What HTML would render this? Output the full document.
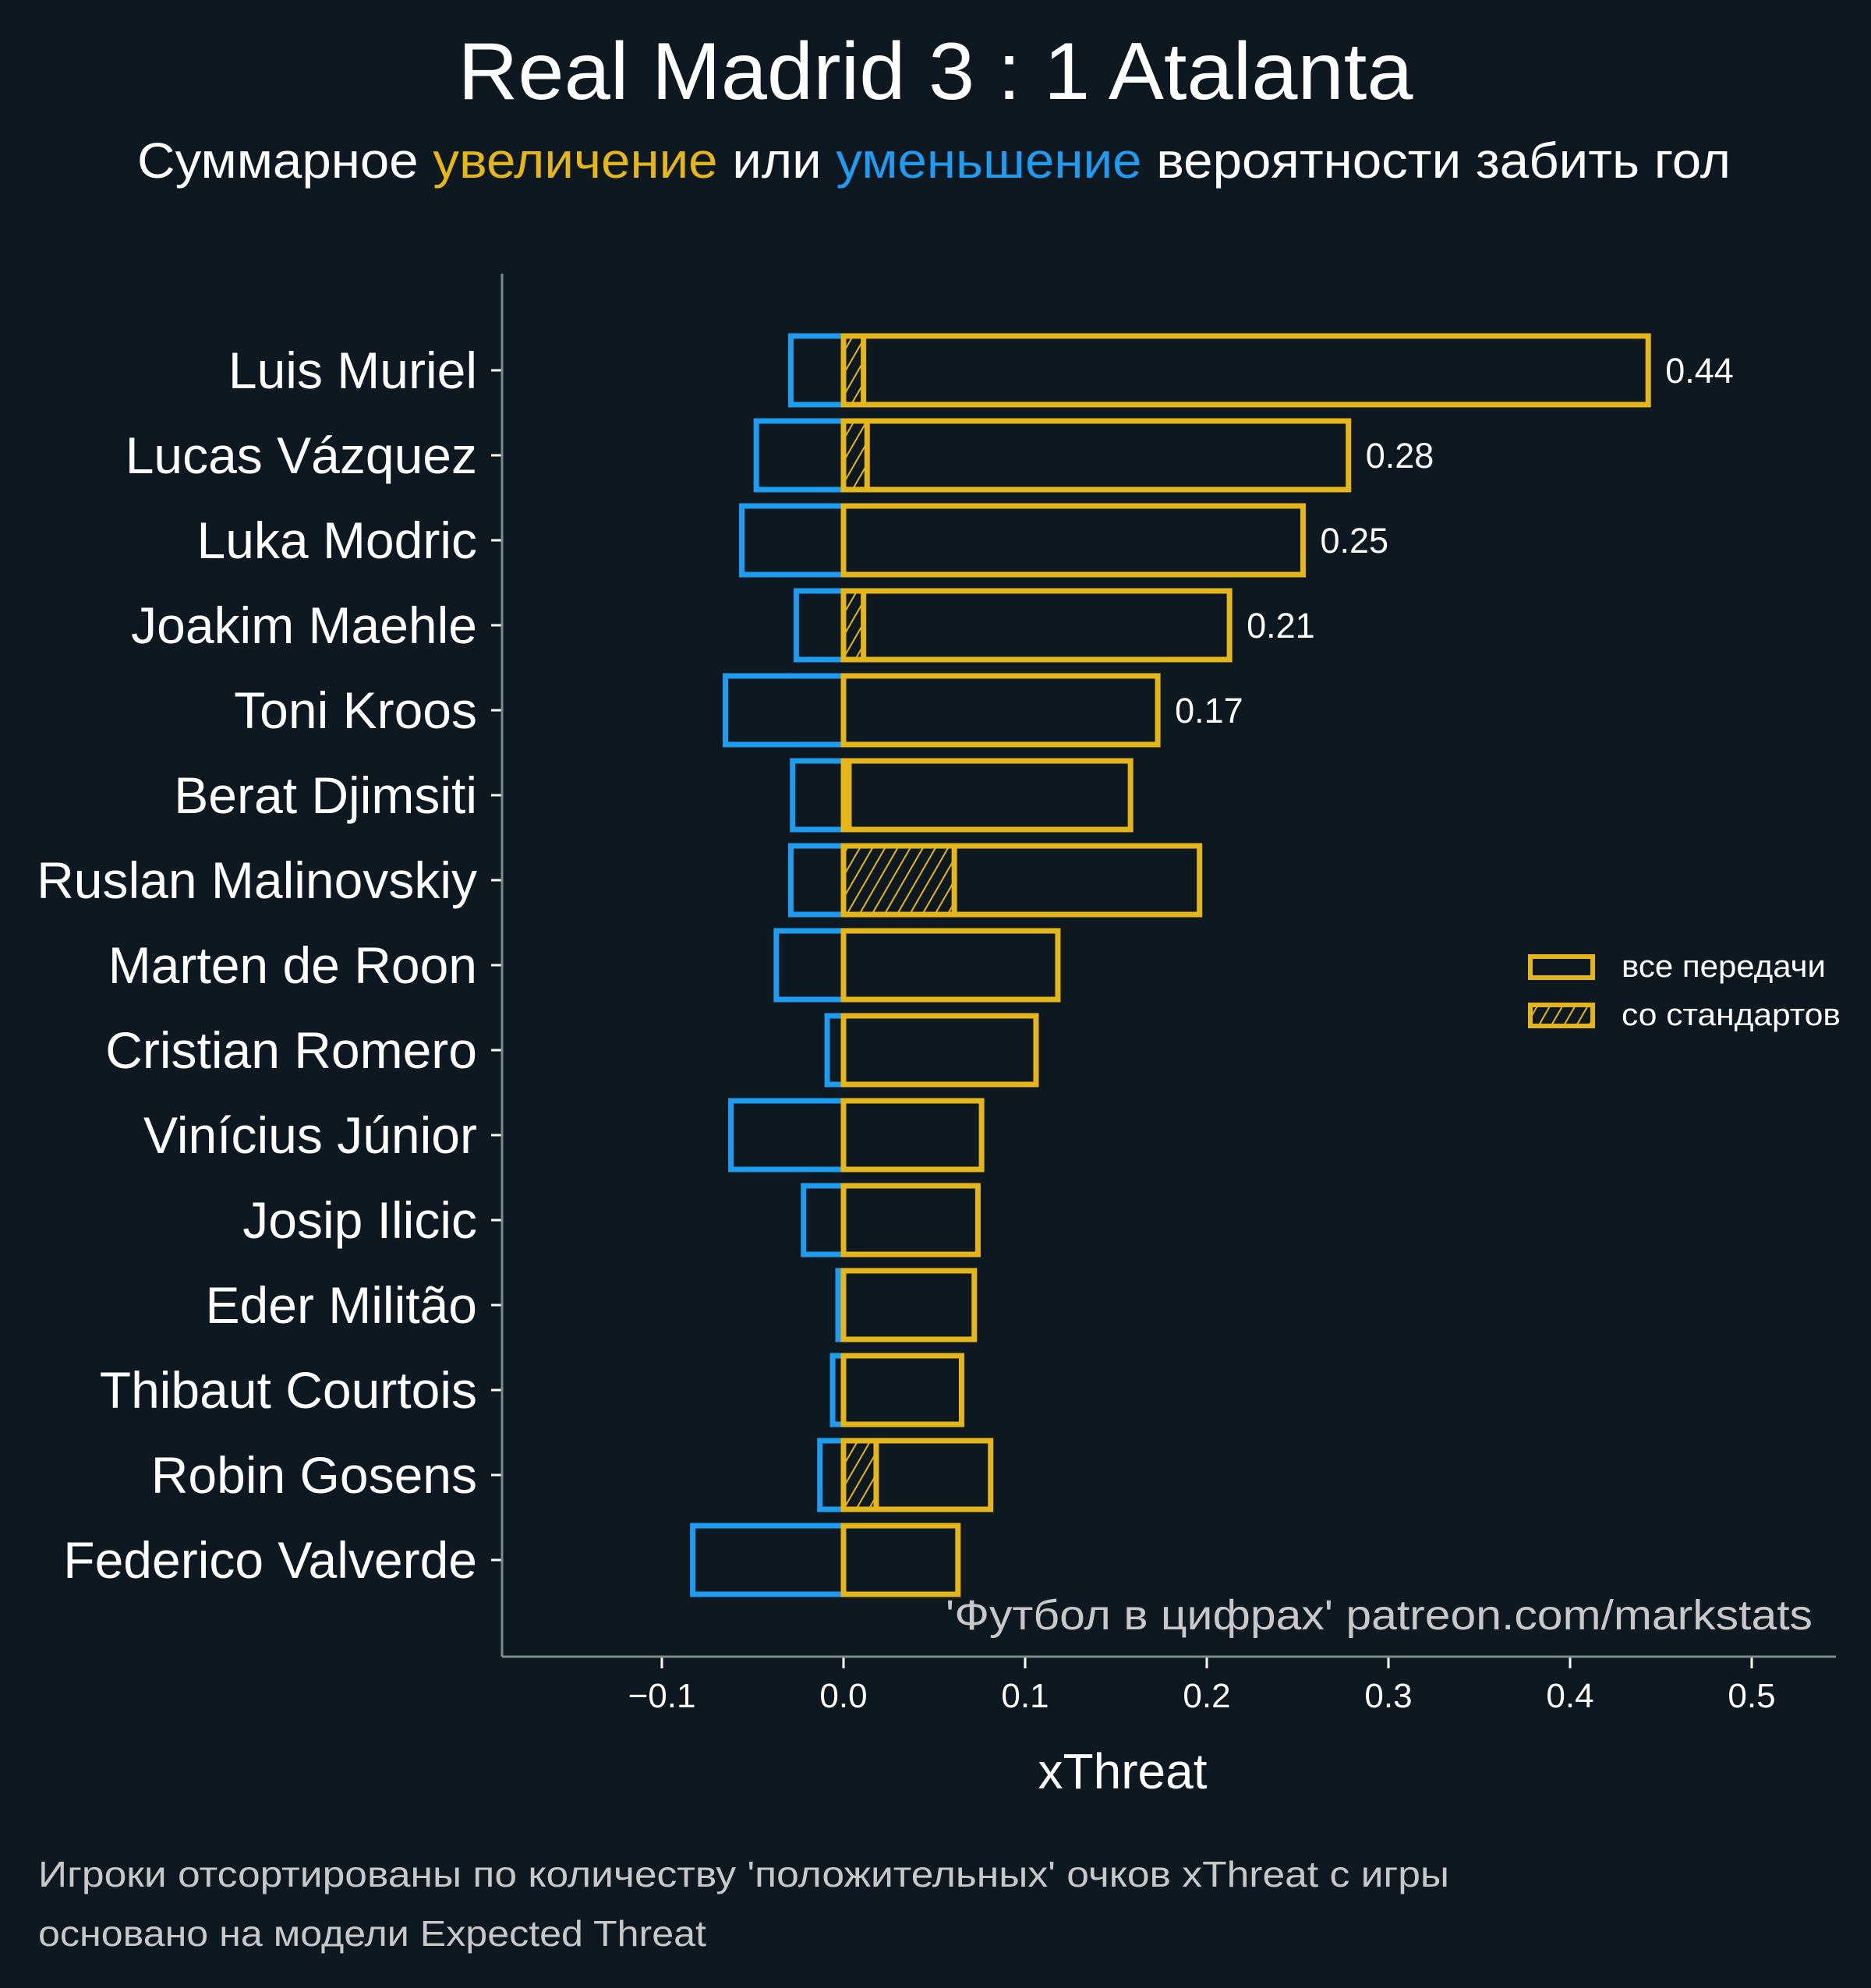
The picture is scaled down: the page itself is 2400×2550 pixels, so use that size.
<!DOCTYPE html>
<html><head><meta charset="utf-8"><style>
html,body{margin:0;padding:0;background:#0e1821;}
svg{display:block;font-family:"Liberation Sans","DejaVu Sans",sans-serif;}
</style></head><body>
<svg id="chart" width="2400" height="2550" viewBox="0 0 2400 2550" xmlns="http://www.w3.org/2000/svg">
<defs>
<pattern id="hatch" patternUnits="userSpaceOnUse" width="14" height="20" patternTransform="rotate(30)">
<line x1="0" y1="0" x2="0" y2="20" stroke="#e4b61a" stroke-width="4"/>
</pattern>
</defs>
<rect x="0" y="0" width="2400" height="2550" fill="#0e1821"/>
<text x="1200" y="127" font-size="104" fill="#ffffff" text-anchor="middle" textLength="1225" lengthAdjust="spacingAndGlyphs">Real Madrid 3 : 1 Atalanta</text>
<text x="1198" y="228" font-size="64" fill="#ffffff" text-anchor="middle" textLength="2044" lengthAdjust="spacingAndGlyphs">Суммарное <tspan fill="#e4b61a">увеличение</tspan> или <tspan fill="#1f9bf0">уменьшение</tspan> вероятности забить гол</text>
<g id="plot"></g>
<line x1="644" y1="351" x2="644" y2="2125" stroke="#7a8c8c" stroke-width="3"/>
<line x1="644" y1="2125" x2="2355" y2="2125" stroke="#7a8c8c" stroke-width="3"/>
<text x="1440" y="2294" font-size="64" fill="#ffffff" text-anchor="middle">xThreat</text>
<text x="2325" y="2090" font-size="54" fill="#c8c8c8" text-anchor="end" textLength="1112" lengthAdjust="spacingAndGlyphs">'Футбол в цифрах' patreon.com/markstats</text>
<g>
<rect x="1963" y="1227" width="80" height="27" fill="none" stroke="#e4b61a" stroke-width="6"/>
<text x="2080" y="1253" font-size="40" fill="#ffffff" textLength="262" lengthAdjust="spacingAndGlyphs">все передачи</text>
<rect x="1963" y="1289" width="80" height="27" fill="url(#hatch)" stroke="#e4b61a" stroke-width="6"/>
<text x="2080" y="1315" font-size="40" fill="#ffffff" textLength="281" lengthAdjust="spacingAndGlyphs">со стандартов</text>
</g>
<text x="49" y="2420" font-size="46" fill="#c8c8c8" textLength="1810" lengthAdjust="spacingAndGlyphs">Игроки отсортированы по количеству 'положительных' очков xThreat с игры</text>
<text x="49" y="2496" font-size="46" fill="#c8c8c8" textLength="857" lengthAdjust="spacingAndGlyphs">основано на модели Expected Threat</text>
</svg>
<script>
const players = ["Luis Muriel","Lucas Vázquez","Luka Modric","Joakim Maehle","Toni Kroos","Berat Djimsiti","Ruslan Malinovskiy","Marten de Roon","Cristian Romero","Vinícius Júnior","Josip Ilicic","Eder Militão","Thibaut Courtois","Robin Gosens","Federico Valverde"];
const positiveValues = [0.443,0.278,0.253,0.2125,0.173,0.158,0.196,0.118,0.106,0.076,0.074,0.072,0.065,0.081,0.063];
const negativeValues = [-0.029,-0.048,-0.056,-0.026,-0.065,-0.028,-0.029,-0.037,-0.009,-0.062,-0.022,-0.003,-0.006,-0.013,-0.083];
const setPieceValues = [0.011,0.013,0,0.011,0,0.003,0.061,0,0,0,0,0,0,0.018,0];
const valueLabels = ["0.44","0.28","0.25","0.21","0.17","","","","","","","","","",""];
const xTicks = [-0.1,0.0,0.1,0.2,0.3,0.4,0.5];
const xTickLabels = ["−0.1","0.0","0.1","0.2","0.3","0.4","0.5"];

const NS = "http://www.w3.org/2000/svg";
const X0 = 1082, XS = 2330;
function xScale(v){ return X0 + v*XS; }
function yScale(i){ return 475 + i*109; }
const BH = 88;
const plot = document.getElementById('plot');
function mk(tag, attrs){
  const e = document.createElementNS(NS, tag);
  for (const k in attrs) e.setAttribute(k, attrs[k]);
  plot.appendChild(e);
  return e;
}
players.forEach((p,i)=>{
  const cy = yScale(i);
  const nb = mk('rect',{x:xScale(negativeValues[i]),y:cy-BH/2,width:xScale(0)-xScale(negativeValues[i]),height:BH,fill:'none',stroke:'#1f9bf0','stroke-width':7});
  
  
  if (setPieceValues[i] > 0) {
    const sb = mk('rect',{x:xScale(0),y:cy-BH/2,width:xScale(setPieceValues[i])-xScale(0),height:BH,fill:'url(#hatch)',stroke:'#e4b61a','stroke-width':7});
    
    
  }
  const pb = mk('rect',{x:xScale(0),y:cy-BH/2,width:xScale(positiveValues[i])-xScale(0),height:BH,fill:'none',stroke:'#e4b61a','stroke-width':7});
  
  
  if (valueLabels[i]) {
    const vl = mk('text',{x:xScale(positiveValues[i])+22,y:cy+16,'font-size':45,fill:'#ffffff'});
    vl.textContent = valueLabels[i];
    
    
  }
  const tk = mk('line',{x1:630,x2:644,y1:cy,y2:cy,stroke:'#ffffff','stroke-width':3});
  
  
  const lb = mk('text',{x:612,y:cy+23,'font-size':66,fill:'#ffffff','text-anchor':'end'});
  lb.textContent = p;
  
  
});
xTicks.forEach((t,i)=>{
  const x = xScale(t);
  const tk = mk('line',{x1:x,x2:x,y1:2125,y2:2140,stroke:'#ffffff','stroke-width':3});
  
  
  const lb = mk('text',{x:x,y:2190,'font-size':44,fill:'#ffffff','text-anchor':'middle'});
  lb.textContent = xTickLabels[i];
  
  
});
</script>
</body></html>
